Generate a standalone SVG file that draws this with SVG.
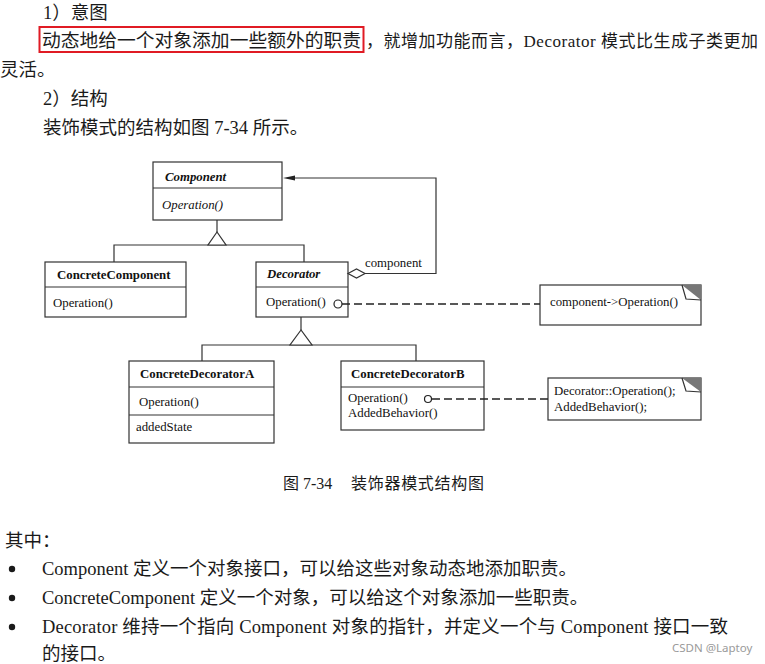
<svg xmlns="http://www.w3.org/2000/svg" width="765" height="664" viewBox="0 0 765 664">
<style>
  .body { font-family: "Liberation Serif", "Noto Sans CJK SC", serif; font-size: 18.5px; fill: #1a1a1a; }
  .sm { font-size: 17px; }
  .cap { font-size: 16px; }
  .uml { font-family: "Liberation Serif", serif; font-size: 12.8px; fill: #111; }
  .b { font-weight: bold; }
  .i { font-style: italic; }
  .box { fill: #fff; stroke: #333; stroke-width: 1.2; }
  .ln { fill: none; stroke: #333; stroke-width: 1.2; }
  .dash { fill: none; stroke: #222; stroke-width: 1.4; stroke-dasharray: 8 4; }
  .tri { fill: #fff; stroke: #333; stroke-width: 1.2; }
  .ear { fill: #777; stroke: none; }
  .dot { fill: #1a1a1a; }
</style>
<rect width="765" height="664" fill="#fff"/>

<g id="text-top">
  <text class="body" x="43" y="19">1）意图</text>
  <rect x="39.5" y="27" width="324" height="25" fill="none" stroke="#e01b24" stroke-width="2"/>
  <text class="body" x="42" y="47" textLength="319" lengthAdjust="spacingAndGlyphs">动态地给一个对象添加一些额外的职责</text>
  <text class="body sm" x="366" y="47" textLength="392" lengthAdjust="spacing">，就增加功能而言，Decorator 模式比生成子类更加</text>
  <text class="body" x="0" y="76">灵活。</text>
  <text class="body" x="43" y="105">2）结构</text>
  <text class="body" x="43" y="134">装饰模式的结构如图 7-34 所示。</text>
</g>

<g id="component">
  <rect class="box" x="153" y="162" width="129" height="58"/>
  <line class="ln" x1="153" y1="188" x2="282" y2="188"/>
  <text class="uml b i" x="165" y="181">Component</text>
  <text class="uml i" x="162" y="209">Operation()</text>
</g>

<g id="concreteComponent">
  <rect class="box" x="45" y="262" width="141" height="55"/>
  <line class="ln" x1="45" y1="287" x2="186" y2="287"/>
  <text class="uml b" x="57" y="279">ConcreteComponent</text>
  <text class="uml" x="53" y="307">Operation()</text>
</g>

<g id="decorator">
  <rect class="box" x="256" y="262" width="92" height="55"/>
  <line class="ln" x1="256" y1="287" x2="348" y2="287"/>
  <text class="uml b i" x="267" y="278">Decorator</text>
  <text class="uml" x="266" y="306">Operation()</text>
</g>

<g id="concreteDecoratorA">
  <rect class="box" x="129" y="361" width="145" height="82"/>
  <line class="ln" x1="129" y1="387" x2="274" y2="387"/>
  <line class="ln" x1="129" y1="415" x2="274" y2="415"/>
  <text class="uml b" x="140" y="378">ConcreteDecoratorA</text>
  <text class="uml" x="139" y="406">Operation()</text>
  <text class="uml" x="136" y="431">addedState</text>
</g>

<g id="concreteDecoratorB">
  <rect class="box" x="341" y="361" width="143" height="69"/>
  <line class="ln" x1="341" y1="387" x2="484" y2="387"/>
  <text class="uml b" x="351" y="378">ConcreteDecoratorB</text>
  <text class="uml" x="348" y="402">Operation()</text>
  <text class="uml" x="348" y="417">AddedBehavior()</text>
</g>

<g id="note1">
  <rect class="box" x="540" y="285" width="161" height="40"/>
  <polygon class="ear" points="682,285 701,285 701,300"/>
  <polyline class="ln" points="682,285 686,299 701,300"/>
  <text class="uml" x="550" y="306">component-&gt;Operation()</text>
</g>

<g id="note2">
  <rect class="box" x="548" y="378" width="153" height="42"/>
  <polygon class="ear" points="682,378 701,378 701,392"/>
  <polyline class="ln" points="682,378 686,391 701,392"/>
  <text class="uml" x="554" y="395">Decorator::Operation();</text>
  <text class="uml" x="554" y="411">AddedBehavior();</text>
</g>

<g id="connectors">
  <!-- inheritance Component -->
  <line class="ln" x1="217" y1="220" x2="217" y2="232"/>
  <polyline class="ln" points="114,262 114,245 304,245 304,262"/>
  <polygon class="tri" points="217,232 208,245 226,245"/>
  <!-- inheritance Decorator -->
  <line class="ln" x1="301" y1="317" x2="301" y2="330"/>
  <polyline class="ln" points="202,361 202,345 416,345 416,361"/>
  <polygon class="tri" points="301,330 290,345 312,345"/>
  <!-- aggregation component -->
  <polyline class="ln" points="365,273.5 436,273.5 436,178 292,178"/>
  <polygon points="348,273.5 356.5,269 365,273.5 356.5,278" fill="#fff" stroke="#333" stroke-width="1.2"/>
  <polygon points="283,178 295,175.5 295,180.5" fill="#222"/>
  <text class="uml" x="365" y="267">component</text>
  <!-- note links -->
  <circle cx="338" cy="304" r="4" fill="#fff" stroke="#222" stroke-width="1.2"/>
  <line class="dash" x1="342" y1="304" x2="540" y2="304"/>
  <circle cx="428" cy="399" r="3.5" fill="#fff" stroke="#222" stroke-width="1.2"/>
  <line class="dash" x1="432" y1="399" x2="548" y2="399" stroke-width="1.1" stroke-dasharray="6 4"/>
</g>

<g id="text-bottom">
  <text class="body cap" x="283" y="489">图 7-34</text>
  <text class="body cap" x="351" y="489" textLength="133" lengthAdjust="spacing">装饰器模式结构图</text>
  <text class="body" x="5" y="547">其中：</text>
  <circle class="dot" cx="12" cy="569" r="3.2"/>
  <text class="body" x="42" y="575">Component 定义一个对象接口，可以给这些对象动态地添加职责。</text>
  <circle class="dot" cx="12" cy="598" r="3.2"/>
  <text class="body" x="42" y="604">ConcreteComponent 定义一个对象，可以给这个对象添加一些职责。</text>
  <circle class="dot" cx="12" cy="627" r="3.2"/>
  <text class="body" x="42" y="633" textLength="686" lengthAdjust="spacing">Decorator 维持一个指向 Component 对象的指针，并定义一个与 Component 接口一致</text>
  <text class="body" x="42" y="660">的接口。</text>
  <text x="672" y="652" font-family="'Noto Sans', sans-serif" font-size="11.5" fill="#9a9a9a">CSDN @Laptoy</text>
</g>
</svg>
